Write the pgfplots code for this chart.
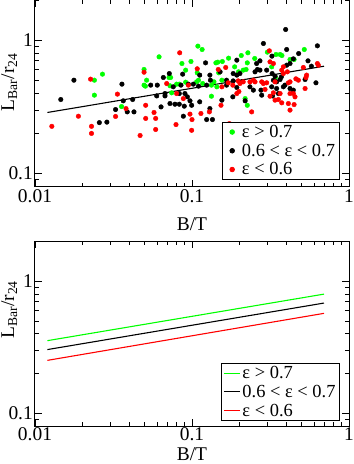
\documentclass[border=0pt]{standalone}
\usepackage{fontspec}
\setmainfont{Liberation Serif}
\usepackage{pgfplots}
\pgfplotsset{compat=1.18}
\definecolor{xgreen}{RGB}{0,255,0}
\definecolor{xred}{RGB}{255,0,0}
\newcommand{\lentry}[2][88bp]{\makebox[#1][l]{#2}}

\begin{document}
\begin{tikzpicture}
\path[use as bounding box] (0,0) rectangle (354bp,464bp);

% upper panel: scatter with fit
\begin{loglogaxis}[
  scale only axis, width=314bp, height=186.5bp,
  at={(35bp,277.5bp)}, anchor=south west,
  xmin=0.01, xmax=1, ymin=0.08, ymax=2,
  xtick={0.01,0.1,1}, xticklabels={0.01,0.1,1},
  ytick={0.1,1}, yticklabels={0.1,1},
  minor xtick={0.02,0.03,0.04,0.05,0.06,0.07,0.08,0.09,0.2,0.3,0.4,0.5,0.6,0.7,0.8,0.9},
  minor ytick={0.08,0.09,0.2,0.3,0.4,0.5,0.6,0.7,0.8,0.9,2},
  tick align=inside, major tick length=7bp, minor tick length=4bp,
  tick style={black, line width=0.7bp},
  axis line style={line width=1bp},
  tick label style={font=\fontsize{19.5}{20}\selectfont},
  xticklabel style={inner ysep=3bp},
  yticklabel style={inner xsep=2bp},
  label style={font=\fontsize{19.5}{20}\selectfont},
  xlabel={B/T},
  ylabel={L\textsubscript{Bar}/r\textsubscript{24}},
  xlabel style={at={(axis description cs:0.5,-0.237)}, anchor=base},
  ylabel style={at={(axis description cs:-0.082,0.56)}, anchor=center},
  legend cell align=left,
  legend style={at={(axis description cs:0.971,0.036)}, anchor=south east,
    draw=black, line width=0.8bp, fill=white,
    font=\fontsize{18.5}{18.5}\selectfont, inner xsep=7.5bp, inner ysep=1bp,
    row sep=1bp, column sep=5.5bp}]
\addplot[only marks, mark=*, mark size=2.3bp, color=xgreen] table {
0.0239 0.501
0.0239 0.387
0.0269 0.556
0.0356 0.318
0.0495 0.603
0.0514 0.501
0.0495 0.460
0.0505 0.452
0.0617 0.750
0.0714 0.525
0.0731 0.525
0.0724 0.455
0.0742 0.403
0.0798 0.468
0.0830 0.468
0.0863 0.668
0.0985 0.692
0.0911 0.596
0.0911 0.484
0.109 0.902
0.116 0.851
0.108 0.569
0.110 0.501
0.117 0.473
0.107 0.487
0.133 0.380
0.133 0.460
0.138 0.487
0.142 0.676
0.146 0.684
0.148 0.569
0.144 0.447
0.156 0.692
0.155 0.501
0.171 0.733
0.187 0.631
0.198 0.579
0.206 0.767
0.212 0.596
0.227 0.804
0.225 0.676
0.221 0.603
0.218 0.365
0.225 0.325
0.251 0.729
0.302 0.813
0.322 0.631
0.340 0.525
0.343 0.781
0.364 0.781
0.374 0.767
0.421 0.716
0.447 0.716
0.519 0.851
};
\addlegendentry{\lentry{ε > 0.7}}
\addplot[only marks, mark=*, mark size=2.3bp, color=black] table {
0.0146 0.359
0.0177 0.501
0.0257 0.241
0.0287 0.243
0.0326 0.302
0.0358 0.468
0.0365 0.351
0.0387 0.290
0.0427 0.290
0.0419 0.359
0.0546 0.460
0.0601 0.460
0.0596 0.382
0.0673 0.398
0.0673 0.382
0.0635 0.316
0.0717 0.562
0.0657 0.525
0.0724 0.335
0.0760 0.447
0.0779 0.331
0.0830 0.331
0.0830 0.398
0.0851 0.460
0.0872 0.556
0.0893 0.320
0.0902 0.398
0.0934 0.376
0.0971 0.351
0.0995 0.325
0.0948 0.468
0.0881 0.269
0.102 0.468
0.110 0.452
0.112 0.547
0.112 0.345
0.122 0.676
0.124 0.460
0.124 0.254
0.130 0.547
0.131 0.501
0.130 0.307
0.135 0.254
0.151 0.579
0.155 0.355
0.166 0.460
0.166 0.501
0.182 0.376
0.183 0.562
0.183 0.495
0.193 0.708
0.193 0.547
0.193 0.442
0.202 0.562
0.207 0.487
0.218 0.351
0.234 0.447
0.246 0.422
0.252 0.579
0.258 0.668
0.261 0.603
0.271 0.700
0.271 0.596
0.275 0.422
0.278 0.387
0.285 0.944
0.299 0.596
0.322 0.447
0.323 0.759
0.324 0.562
0.326 0.382
0.330 0.501
0.338 0.537
0.346 0.487
0.346 0.434
0.355 0.398
0.364 0.507
0.371 0.531
0.382 0.447
0.391 0.460
0.395 1.202
0.401 0.851
0.401 0.649
0.421 0.668
0.421 0.434
0.442 0.724
0.442 0.422
0.478 0.794
0.525 0.507
0.548 0.700
0.576 0.638
0.616 0.479
0.629 0.907
};
\addlegendentry{\lentry{0.6 < ε < 0.7}}
\addplot[only marks, mark=*, mark size=2.3bp, color=xred] table {
0.0128 0.226
0.0189 0.269
0.0226 0.510
0.0229 0.226
0.0229 0.200
0.0326 0.268
0.0335 0.394
0.0380 0.307
0.0467 0.193
0.0495 0.575
0.0507 0.325
0.0507 0.259
0.0573 0.287
0.0587 0.259
0.0587 0.214
0.0690 0.473
0.0798 0.398
0.0791 0.233
0.0835 0.804
0.0881 0.365
0.0948 0.460
0.0971 0.279
0.0995 0.211
0.100 0.254
0.108 0.610
0.114 0.282
0.129 0.290
0.147 0.603
0.153 0.325
0.155 0.447
0.164 0.624
0.170 0.479
0.173 0.237
0.182 0.460
0.193 0.398
0.197 0.495
0.199 0.412
0.202 0.473
0.212 0.487
0.234 0.487
0.240 0.290
0.246 0.501
0.252 0.487
0.278 0.487
0.285 0.473
0.292 0.427
0.299 0.479
0.311 0.832
0.314 0.688
0.330 0.668
0.314 0.380
0.330 0.403
0.338 0.487
0.338 0.355
0.355 0.359
0.364 0.398
0.373 0.339
0.373 0.596
0.382 0.631
0.382 0.562
0.405 0.579
0.411 0.479
0.411 0.335
0.421 0.487
0.421 0.398
0.421 0.299
0.442 0.398
0.447 0.329
0.453 0.376
0.459 0.513
0.476 0.501
0.512 0.624
0.525 0.434
0.532 0.525
0.537 0.547
0.629 0.668
0.638 0.649
};
\addlegendentry{\lentry{ε < 0.6}}
% overall fit
\addplot[black, line width=1.1bp, forget plot] coordinates {(0.0120,0.287) (0.693,0.638)};
\end{loglogaxis}

% lower panel: fits per class
\begin{loglogaxis}[
  scale only axis, width=314bp, height=185bp,
  at={(35bp,37.7bp)}, anchor=south west,
  xmin=0.01, xmax=1, ymin=0.08, ymax=2,
  xtick={0.01,0.1,1}, xticklabels={0.01,0.1,1},
  ytick={0.1,1}, yticklabels={0.1,1},
  minor xtick={0.02,0.03,0.04,0.05,0.06,0.07,0.08,0.09,0.2,0.3,0.4,0.5,0.6,0.7,0.8,0.9},
  minor ytick={0.08,0.09,0.2,0.3,0.4,0.5,0.6,0.7,0.8,0.9,2},
  tick align=inside, major tick length=7bp, minor tick length=4bp,
  tick style={black, line width=0.7bp},
  axis line style={line width=1bp},
  tick label style={font=\fontsize{19.5}{20}\selectfont},
  xticklabel style={inner ysep=1.5bp},
  yticklabel style={inner xsep=2bp},
  label style={font=\fontsize{19.5}{20}\selectfont},
  xlabel={B/T},
  ylabel={L\textsubscript{Bar}/r\textsubscript{24}},
  xlabel style={at={(axis description cs:0.5,-0.186)}, anchor=base},
  ylabel style={at={(axis description cs:-0.082,0.63)}, anchor=center},
  legend cell align=left,
  legend image code/.code={\draw[#1] (0bp,0bp) -- (16bp,0bp);},
  legend style={at={(axis description cs:0.971,0.029)}, anchor=south east,
    draw=black, line width=0.8bp, fill=white,
    font=\fontsize{18.5}{18.5}\selectfont, inner xsep=2bp, inner ysep=1bp,
    row sep=1bp, column sep=0bp}]
\addplot[xgreen, line width=1.1bp] coordinates {(0.0120,0.355) (0.693,0.798)};
\addlegendentry{\lentry[93bp]{ε > 0.7}}
\addplot[black, line width=1.1bp] coordinates {(0.0120,0.304) (0.693,0.683)};
\addlegendentry{\lentry[93bp]{0.6 < ε < 0.7}}
\addplot[xred, line width=1.1bp] coordinates {(0.0120,0.252) (0.693,0.571)};
\addlegendentry{\lentry[93bp]{ε < 0.6}}
\end{loglogaxis}
\end{tikzpicture}
\end{document}
